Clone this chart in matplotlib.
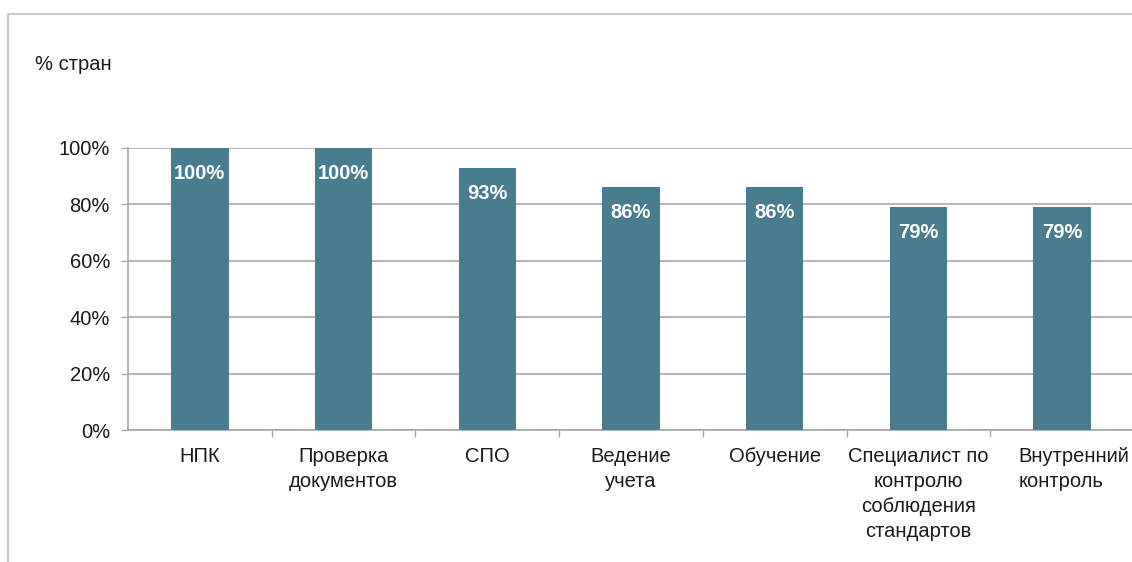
import matplotlib
matplotlib.use("Agg")
import matplotlib.pyplot as plt
from matplotlib.lines import Line2D
from matplotlib.transforms import ScaledTranslation

plt.rcParams['font.family'] = ['Liberation Sans', 'DejaVu Sans']

# data
categories = ["НПК", "Проверка\nдокументов", "СПО", "Ведение\nучета", "Обучение",
              "Специалист по\nконтролю\nсоблюдения\nстандартов", "Внутренний\nконтроль"]
shares = [100, 100, 93, 86, 86, 79, 79]
yticks = [0, 20, 40, 60, 80, 100]

bar_color = "#487d8f"
grid_color = "#a8a8a8"

fig = plt.figure(figsize=(11.32, 5.62), dpi=100)
ax = fig.add_axes([128/1132, 132/562, 1006/1132, 282/562])

x = list(range(len(categories)))
ax.bar(x, shares, width=0.4, color=bar_color, zorder=3)

# white bold labels inside the bars
for xi, v in zip(x, shares):
    ax.annotate(f"{v}%", (xi, v), xytext=(0, -18.3), textcoords="offset points",
                ha="center", va="center", color="white", fontsize=14.5,
                fontweight="bold", zorder=4)

ax.set_xlim(-0.5, len(categories) - 0.5)
ax.set_ylim(0, 100)
ax.set_yticks(yticks)
ax.set_yticklabels([f"{t}%" for t in yticks])
ax.yaxis.grid(True, color=grid_color, linewidth=1.2, zorder=0)

ax.set_xticks(x)
ax.set_xticklabels(categories, linespacing=1.4)
ax.set_xticks([i + 0.5 for i in x[:-1]], minor=True)
ax.tick_params(axis="x", which="major", length=0, pad=12, labelsize=14.5, colors="#1a1a1a")
ax.tick_params(axis="x", which="minor", length=5, width=1, color=grid_color)
ax.tick_params(axis="y", length=5, width=1, color=grid_color, pad=8, labelsize=14.5,
               labelcolor="#1a1a1a")

# last label sits a bit to the right in the original
last = ax.get_xticklabels()[-1]
last.set_multialignment("left")
last.set_transform(last.get_transform() + ScaledTranslation(12/100, 0, fig.dpi_scale_trans))

for s in ["top", "right"]:
    ax.spines[s].set_visible(False)
for s in ["left", "bottom"]:
    ax.spines[s].set_color(grid_color)
    ax.spines[s].set_linewidth(1.2)

fig.text(35/1132, 1 - 65/562, "% стран", fontsize=14.5, va="center", ha="left", color="#1a1a1a")

# outer chart frame (top and left edges)
fig.add_artist(Line2D([8/1132, 1], [1 - 14/562, 1 - 14/562], transform=fig.transFigure,
                      color="#c8c8c8", linewidth=1.5))
fig.add_artist(Line2D([8/1132, 8/1132], [0, 1 - 14/562], transform=fig.transFigure,
                      color="#c8c8c8", linewidth=1.5))

fig.savefig("out.png", dpi=100)
